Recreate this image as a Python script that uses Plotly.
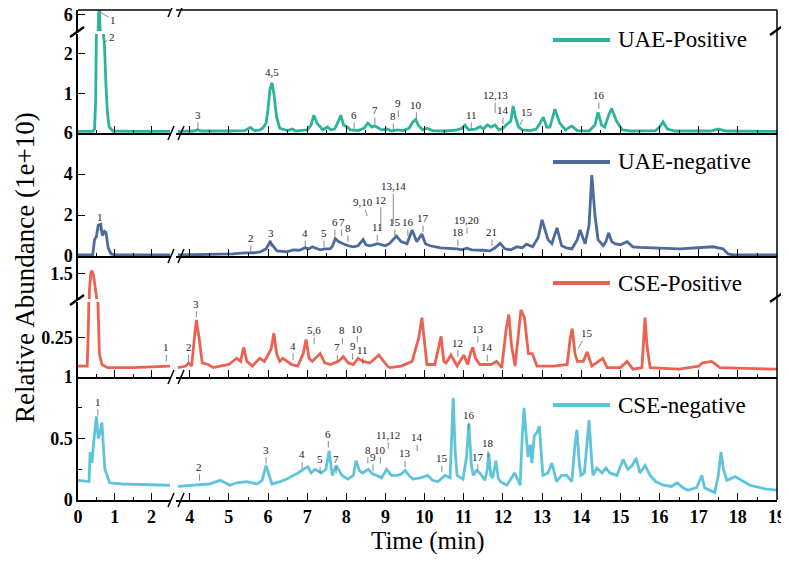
import plotly.graph_objects as go

# ---- chromatogram data (time in min, abundance in 1e+10) ----
UAE_POS_T = [0, 0.40, 0.45, 0.48, 0.50, 0.53, 0.56, 0.58, 0.61, 0.64, 0.68, 0.72, 0.76, 0.80, 0.85, 0.95, 1.5, 2.5,
             3.7, 4.1, 4.2, 4.3, 5.0, 5.4, 5.55, 5.65, 5.8, 5.88, 5.95, 6.0, 6.05, 6.1, 6.15, 6.22, 6.3, 6.5, 6.62,
             6.7, 7.0, 7.1, 7.17, 7.25, 7.4, 7.52, 7.6, 7.7, 7.8, 7.86, 7.93, 8.03, 8.1, 8.3, 8.45, 8.55, 8.65,
             8.72, 8.8, 8.9, 9.05, 9.15, 9.3, 9.45, 9.6, 9.7, 9.77, 9.85, 9.95, 10.06, 10.2, 10.5, 10.8, 10.95,
             11.03, 11.12, 11.3, 11.42, 11.5, 11.6, 11.7, 11.8, 11.9, 12.0, 12.1, 12.2, 12.26, 12.32, 12.4, 12.5,
             12.7, 12.85, 12.95, 13.03, 13.12, 13.2, 13.33, 13.45, 13.6, 13.76, 13.9, 14.2, 14.35, 14.43, 14.52,
             14.6, 14.7, 14.78, 14.9, 15.05, 15.3, 15.9, 16.0, 16.09, 16.2, 16.4, 17.3, 17.5, 17.7, 19]
UAE_POS_Y = [0.04, 0.04, 0.1, 0.8, 2.6, 4.5, 6.05, 6.2, 5.3, 4.0, 2.6, 2.2, 1.2, 0.5, 0.15, 0.05, 0.04, 0.04,
             0.04, 0.05, 0.08, 0.05, 0.05, 0.06, 0.14, 0.06, 0.08, 0.14, 0.25, 0.6, 1.1, 1.27, 1.0, 0.4, 0.12,
             0.06, 0.1, 0.05, 0.08, 0.2, 0.45, 0.25, 0.08, 0.15, 0.08, 0.1, 0.3, 0.45, 0.2, 0.15, 0.08, 0.06,
             0.12, 0.25, 0.15, 0.18, 0.14, 0.08, 0.1, 0.05, 0.08, 0.06, 0.12, 0.28, 0.34, 0.18, 0.08, 0.12, 0.06,
             0.05, 0.07, 0.12, 0.2, 0.08, 0.1, 0.16, 0.1, 0.2, 0.15, 0.2, 0.08, 0.12, 0.22, 0.3, 0.68, 0.4, 0.15,
             0.08, 0.06, 0.1, 0.25, 0.4, 0.15, 0.15, 0.6, 0.25, 0.08, 0.18, 0.06, 0.05, 0.2, 0.52, 0.2, 0.15,
             0.45, 0.62, 0.3, 0.08, 0.05, 0.06, 0.15, 0.28, 0.1, 0.05, 0.05, 0.1, 0.05, 0.04]

UAE_NEG_T = [0, 0.40, 0.45, 0.50, 0.55, 0.62, 0.66, 0.72, 0.76, 0.82, 0.9, 1.0, 2.5,
             3.7, 4.5, 5.1, 5.4, 5.62, 5.8, 5.95, 6.05, 6.15, 6.23, 6.48, 6.64, 6.8, 6.95, 7.05, 7.13, 7.33,
             7.45, 7.59, 7.65, 7.72, 7.8, 7.92, 8.05, 8.18, 8.3, 8.43, 8.5, 8.6, 8.8, 9.0, 9.1, 9.28, 9.4, 9.55,
             9.68, 9.8, 9.93, 10.02, 10.14, 10.4, 10.6, 10.83, 10.95, 11.08, 11.2, 11.29, 11.5, 11.67, 11.8,
             11.93, 12.05, 12.2, 12.36, 12.5, 12.6, 12.76, 12.9, 13.0, 13.08, 13.15, 13.25, 13.38, 13.5, 13.62,
             13.76, 13.9, 13.97, 14.1, 14.2, 14.27, 14.35, 14.43, 14.56, 14.63, 14.7, 14.78, 14.86, 15.0,
             15.17, 15.32, 15.5, 15.68, 16.0, 16.52, 16.8, 17.1, 17.37, 17.5, 17.62, 17.75, 17.9, 19]
UAE_NEG_Y = [0.05, 0.05, 0.8, 0.95, 1.5, 1.55, 1.0, 1.2, 1.15, 0.4, 0.1, 0.05, 0.05,
             0.05, 0.08, 0.1, 0.15, 0.15, 0.2, 0.35, 0.68, 0.45, 0.25, 0.2, 0.3, 0.28, 0.4, 0.35, 0.45, 0.3,
             0.35, 0.35, 0.5, 0.85, 0.7, 0.6, 0.5, 0.45, 0.5, 0.8, 0.55, 0.5, 0.6, 0.5, 0.6, 0.97, 0.7, 0.6,
             1.27, 0.7, 1.07, 0.6, 0.5, 0.4, 0.38, 0.35, 0.3, 0.38, 0.3, 0.3, 0.28, 0.25, 0.4,
             0.62, 0.35, 0.3, 0.45, 0.4, 0.58, 0.45, 0.9, 1.76, 1.2, 0.8, 0.6, 1.37, 0.5, 0.4,
             0.35, 0.8, 1.27, 0.6, 1.5, 3.95, 2.0, 0.8, 0.5, 0.7, 1.12, 0.7, 0.6, 0.55,
             0.7, 0.45, 0.42, 0.4, 0.38, 0.35, 0.38, 0.4, 0.45, 0.4, 0.35, 0.1, 0.05, 0.05]

CSE_POS_T = [0, 0.25, 0.28, 0.31, 0.35, 0.38, 0.42, 0.47, 0.51, 0.54, 0.58, 0.65, 0.8, 1.5, 2.4, 2.5,
             3.7, 3.9, 3.97, 4.05, 4.12, 4.17, 4.24, 4.32, 4.47, 4.6, 4.78, 5.0, 5.2, 5.3, 5.38, 5.46, 5.6,
             5.79, 5.91, 6.08, 6.15, 6.22, 6.3, 6.38, 6.6, 6.76, 6.9, 6.97, 7.05, 7.13, 7.33, 7.45, 7.59, 7.8,
             7.92, 8.05, 8.18, 8.3, 8.43, 8.6, 8.83, 9.05, 9.11, 9.4, 9.68, 9.85, 9.93, 10.0, 10.06, 10.26,
             10.35, 10.42, 10.49, 10.55, 10.67, 10.83, 11.0, 11.1, 11.18, 11.23, 11.3, 11.41, 11.7, 11.84,
             11.97, 12.08, 12.15, 12.22, 12.31, 12.4, 12.46, 12.55, 12.65, 12.75, 12.87, 13.3, 13.64, 13.72,
             13.77, 13.84, 13.9, 14.05, 14.15, 14.27, 14.55, 14.66, 15.0, 15.17, 15.32, 15.55, 15.6, 15.63,
             15.68, 15.76, 16.5, 17.0, 17.1, 17.33, 17.54, 19]
CSE_POS_Y = [0.07, 0.07, 0.3, 1.3, 1.5, 1.53, 1.48, 1.35, 1.2, 0.5, 0.15, 0.08, 0.06, 0.06, 0.07, 0.07,
             0.06, 0.07, 0.09, 0.07, 0.25, 0.365, 0.25, 0.09, 0.08, 0.06, 0.07, 0.08, 0.12, 0.1, 0.19, 0.1,
             0.07, 0.12, 0.1, 0.18, 0.28, 0.15, 0.1, 0.12, 0.08, 0.07, 0.15, 0.24, 0.12, 0.1, 0.15, 0.09,
             0.08, 0.1, 0.13, 0.09, 0.08, 0.12, 0.1, 0.09, 0.14, 0.07, 0.06, 0.07, 0.1, 0.25, 0.38, 0.2, 0.08,
             0.08, 0.18, 0.26, 0.1, 0.09, 0.14, 0.07, 0.14, 0.08, 0.16, 0.19, 0.12, 0.08, 0.08, 0.1,
             0.06, 0.3, 0.4, 0.2, 0.07, 0.3, 0.43, 0.38, 0.15, 0.15, 0.07, 0.07, 0.08, 0.25,
             0.31, 0.15, 0.1, 0.1, 0.16, 0.07, 0.12, 0.06, 0.06, 0.1, 0.05, 0.06, 0.3, 0.38,
             0.2, 0.06, 0.05, 0.07, 0.09, 0.1, 0.06, 0.05]

CSE_NEG_T = [0, 0.3, 0.33, 0.38, 0.42, 0.5, 0.55, 0.6, 0.65, 0.7, 0.73, 0.86, 1.2, 2.5,
             3.7, 4.22, 4.5, 4.78, 5.03, 5.2, 5.46, 5.72, 5.85, 5.95, 6.02, 6.1, 6.31, 6.48, 6.64, 6.77, 6.9,
             7.02, 7.1, 7.2, 7.36, 7.48, 7.56, 7.64, 7.74, 7.89, 8.04, 8.18, 8.25, 8.33, 8.41, 8.56, 8.68, 8.78,
             8.9, 9.03, 9.15, 9.3, 9.4, 9.5, 9.6, 9.7, 9.9, 10.08, 10.2, 10.34, 10.45, 10.52, 10.65, 10.69,
             10.73, 10.78, 10.83, 10.98, 11.07, 11.13, 11.19, 11.24, 11.32, 11.41, 11.54, 11.6, 11.64, 11.69,
             11.74, 11.82, 11.88, 11.93, 12.1, 12.3, 12.44, 12.49, 12.54, 12.6, 12.64, 12.7, 12.74, 12.8,
             12.87, 12.93, 12.98, 13.02, 13.15, 13.25, 13.37, 13.5, 13.63, 13.76, 13.84, 13.89, 13.95, 13.99,
             14.08, 14.15, 14.2, 14.26, 14.3, 14.4, 14.53, 14.63, 14.73, 14.91, 15.0, 15.07, 15.19, 15.3,
             15.4, 15.5, 15.63, 15.76, 15.9, 16.1, 16.3, 16.45, 16.6, 16.73, 16.95, 17.08, 17.15, 17.41, 17.5,
             17.57, 17.63, 17.72, 17.93, 18.31, 18.7, 19]
CSE_NEG_Y = [0.16, 0.15, 0.39, 0.3, 0.45, 0.68, 0.5, 0.55, 0.63, 0.4, 0.25, 0.14, 0.13, 0.12,
             0.11, 0.12, 0.13, 0.16, 0.12, 0.14, 0.15, 0.13, 0.16, 0.28, 0.2, 0.13, 0.15, 0.17, 0.2, 0.22, 0.25,
             0.27, 0.22, 0.25, 0.22, 0.25, 0.4, 0.2, 0.28, 0.2, 0.17, 0.2, 0.32, 0.24, 0.22, 0.25, 0.21, 0.2,
             0.18, 0.25, 0.2, 0.2, 0.21, 0.24, 0.2, 0.17, 0.18, 0.2, 0.16, 0.15, 0.18, 0.2, 0.18, 0.5,
             0.83, 0.4, 0.2, 0.17, 0.35, 0.62, 0.3, 0.2, 0.24, 0.22, 0.16, 0.25, 0.38, 0.2,
             0.18, 0.32, 0.18, 0.15, 0.12, 0.22, 0.12, 0.5, 0.75, 0.5, 0.35, 0.45, 0.3, 0.52,
             0.55, 0.6, 0.35, 0.2, 0.22, 0.3, 0.15, 0.2, 0.2, 0.15, 0.45, 0.57, 0.3, 0.2,
             0.22, 0.5, 0.65, 0.35, 0.2, 0.26, 0.22, 0.26, 0.22, 0.2, 0.28, 0.33, 0.25, 0.28,
             0.34, 0.22, 0.28, 0.2, 0.15, 0.12, 0.11, 0.14, 0.1, 0.08, 0.1, 0.2, 0.1, 0.06, 0.2,
             0.39, 0.25, 0.16, 0.19, 0.12, 0.09, 0.08]

# peak labels: text, time, abundance at the label text
UAE_POS_IDS = ["1", "2", "3", "4,5", "6", "7", "8", "9", "10", "11", "12,13", "14", "15", "16"]
UAE_POS_PT = [0.95, 0.92, 4.21, 6.1, 8.2, 8.73, 9.2, 9.33, 9.79, 11.19, 11.8, 12.0, 12.61, 14.45]
UAE_POS_PY = [5.8, 2.43, 0.46, 1.55, 0.46, 0.58, 0.43, 0.76, 0.71, 0.46, 0.96, 0.58, 0.53, 0.96]

UAE_NEG_IDS = ["1", "2", "3", "4", "5", "6", "7", "8", "9,10", "11", "12", "13,14", "15", "16", "17",
               "18", "19,20", "21"]
UAE_NEG_PT = [0.6, 5.56, 6.08, 6.95, 7.43, 7.71, 7.88, 8.04, 8.43, 8.79, 8.88, 9.2, 9.24, 9.57, 9.96,
              10.85, 11.08, 11.72]
UAE_NEG_PY = [1.9, 0.88, 1.12, 1.12, 1.12, 1.66, 1.66, 1.37, 2.63, 1.41, 2.75, 3.4, 1.66, 1.66, 1.85,
              1.17, 1.76, 1.17]

CSE_POS_IDS = ["1", "2", "3", "4", "5,6", "7", "8", "9", "10", "11", "12", "13", "14", "15"]
CSE_POS_PT = [2.4, 3.97, 4.17, 6.64, 7.18, 7.77, 7.9, 8.16, 8.28, 8.42, 10.85, 11.36, 11.6, 14.15]
CSE_POS_PY = [0.19, 0.19, 0.47, 0.2, 0.3, 0.19, 0.3, 0.2, 0.31, 0.17, 0.22, 0.31, 0.19, 0.28]

CSE_NEG_IDS = ["1", "2", "3", "4", "5", "6", "7", "8", "9", "10", "11,12", "13", "14", "15", "16", "17",
               "18"]
CSE_NEG_PT = [0.54, 4.25, 5.95, 6.87, 7.33, 7.54, 7.74, 8.55, 8.68, 8.87, 9.07, 9.5, 9.81, 10.44, 11.13,
              11.36, 11.62]
CSE_NEG_PY = [0.8, 0.27, 0.41, 0.37, 0.33, 0.54, 0.33, 0.41, 0.35, 0.41, 0.53, 0.38, 0.51, 0.34, 0.69,
              0.35, 0.46]

# ---- geometry (page pixels; the page body adds an 8 px margin) ----
W, H = 789, 566
OFF = 8
PL, PR, PT, PB = 78, 777, 10, 500          # plot area in page pixels
PW, PH = PR - PL, PB - PT
FW, FH = W - OFF, H - 2 * OFF
SERIF = "Liberation Serif"


def px_x(px):
    return (px - PL) / PW


def px_y(py):
    return (PB - py) / PH


XL_DOM, XR_DOM = [0, px_x(170)], [px_x(176), 1]
XL_RANGE, XR_RANGE = [0, 2.5], [3.65, 19]

PANELS = [
    dict(name="UAE-Positive", color="#2BB39B", t=UAE_POS_T, y=UAE_POS_Y,
         ids=UAE_POS_IDS, pt=UAE_POS_PT, py=UAE_POS_PY, leg_y=px_y(40),
         lower=dict(dom=[px_y(133), px_y(34)], rng=[0, 2.5], vals=[1, 2]),
         upper=dict(dom=[px_y(31), px_y(10)], rng=[5.35, 6.2], vals=[6])),
    dict(name="UAE-negative", color="#4C6A9D", t=UAE_NEG_T, y=UAE_NEG_Y,
         ids=UAE_NEG_IDS, pt=UAE_NEG_PT, py=UAE_NEG_PY, leg_y=px_y(162),
         lower=dict(dom=[px_y(256), px_y(133)], rng=[0, 6], vals=[0, 2, 4, 6]),
         upper=None),
    dict(name="CSE-Positive", color="#EC6150", t=CSE_POS_T, y=CSE_POS_Y,
         ids=CSE_POS_IDS, pt=CSE_POS_PT, py=CSE_POS_PY, leg_y=px_y(283),
         lower=dict(dom=[px_y(377), px_y(302)], rng=[0, 0.48], vals=[0.25]),
         upper=dict(dom=[px_y(299), px_y(256)], rng=[1.2, 1.7], vals=[1.5])),
    dict(name="CSE-negative", color="#5EC4DC", t=CSE_NEG_T, y=CSE_NEG_Y,
         ids=CSE_NEG_IDS, pt=CSE_NEG_PT, py=CSE_NEG_PY, leg_y=px_y(405),
         lower=dict(dom=[px_y(500), px_y(377)], rng=[0, 1], vals=[0, 0.5, 1], minor=0.25),
         upper=None),
]

# labels placed against the upper (broken) y segment
UPPER_LABELS = {("UAE-Positive", "1")}
# leader offsets (px) for labels whose text is not straight above the peak
LEADERS = {
    ("UAE-Positive", "1"): (13, 8), ("UAE-Positive", "2"): (8, -6),
    ("UAE-Positive", "4,5"): None, ("UAE-Positive", "12,13"): (0, -18),
    ("UAE-Positive", "15"): (7, -13),
    ("UAE-negative", "12"): (0, -30), ("UAE-negative", "13,14"): (0, -38),
    ("UAE-negative", "9,10"): (-4, -14),
    ("CSE-Positive", "15"): (9, -15),
}

tick_font = dict(family=SERIF, size=18, color="black", weight="bold")
fig = go.Figure()
layout = {}
annotations, shapes = [], []


def ax_key(kind, n):
    return (f"{kind}axis" if n == 1 else f"{kind}axis{n}"), (kind if n == 1 else f"{kind}{n}")


yn = 0
for i, p in enumerate(PANELS):
    last = i == len(PANELS) - 1
    xl_key, xl = ax_key("x", 2 * i + 1)
    xr_key, xr = ax_key("x", 2 * i + 2)
    yn += 1
    yl_key, yl = ax_key("y", yn)
    yu = None
    if p["upper"]:
        yn += 1
        yu_key, yu = ax_key("y", yn)

    for key, dom, rng, vals in ((xl_key, XL_DOM, XL_RANGE, [0, 1, 2]),
                                (xr_key, XR_DOM, XR_RANGE, list(range(4, 20)))):
        layout[key] = dict(domain=dom, range=rng, anchor=yl, showgrid=False, zeroline=False,
                           showline=True, linecolor="black", linewidth=1.5,
                           ticks="inside", ticklen=7, tickwidth=1.4, tickcolor="black",
                           tickvals=vals, showticklabels=last, tickfont=tick_font,
                           ticklabeloverflow="allow", automargin=False,
                           minor=dict(ticks="inside", ticklen=3, tickwidth=1, tickcolor="black",
                                      dtick=0.5, tick0=0, showgrid=False))

    segs = [(yl_key, yl, p["lower"])]
    if yu:
        segs.append((yu_key, yu, p["upper"]))
    for key, ref, seg in segs:
        ax = dict(domain=seg["dom"], range=seg["rng"], anchor=xl, showgrid=False, zeroline=False,
                  showline=True, linecolor="black", linewidth=1.5,
                  ticks="inside", ticklen=7, tickwidth=1.4, tickcolor="black",
                  tickvals=seg["vals"], ticktext=[f"{v:g}" for v in seg["vals"]],
                  tickfont=tick_font, ticklabeloverflow="allow", automargin=False)
        if seg.get("minor"):
            ax["minor"] = dict(ticks="inside", ticklen=4, tickwidth=1, tickcolor="black",
                               dtick=seg["minor"], tick0=0, showgrid=False)
        layout[key] = ax

    left = [(t, v) for t, v in zip(p["t"], p["y"]) if t <= XL_RANGE[1]]
    right = [(t, v) for t, v in zip(p["t"], p["y"]) if t >= XR_RANGE[0]]
    combos = [(left, xl, yl), (right, xr, yl)]
    if yu:
        combos.append((left, xl, yu))
    for pts, xa, ya in combos:
        fig.add_trace(go.Scatter(
            x=[a for a, _ in pts], y=[b for _, b in pts], xaxis=xa, yaxis=ya,
            mode="lines", line=dict(color=p["color"], width=2.8),
            showlegend=False, hoverinfo="skip"))

    for s, t, v in zip(p["ids"], p["pt"], p["py"]):
        lead = LEADERS.get((p["name"], s), (0, -14))
        yref = yu if (p["name"], s) in UPPER_LABELS else yl
        a = dict(text=s, x=t, y=v, xref=xl if t <= XL_RANGE[1] else xr, yref=yref,
                 xanchor="center", yanchor="middle",
                 font=dict(family=SERIF, size=11, color="#222"))
        if lead is None:
            a["showarrow"] = False
        else:
            a.update(showarrow=True, arrowhead=0, arrowwidth=0.7, arrowcolor="#555",
                     ax=lead[0], ay=lead[1], xshift=-lead[0], yshift=lead[1], standoff=0)
        annotations.append(a)

    # legend drawn by hand: line sample + name
    shapes.append(dict(type="line", xref="paper", yref="paper", x0=px_x(553), x1=px_x(610),
                       y0=p["leg_y"], y1=p["leg_y"], line=dict(color=p["color"], width=4)))
    annotations.append(dict(text=p["name"], xref="paper", yref="paper", x=px_x(616), y=p["leg_y"],
                            xanchor="left", yanchor="middle", showarrow=False,
                            font=dict(family=SERIF, size=23, color="black")))

# frame: top edge and right edge
for x0, x1 in (XL_DOM, XR_DOM):
    shapes.append(dict(type="line", xref="paper", yref="paper", x0=x0, x1=x1, y0=1, y1=1,
                       line=dict(color="black", width=1.5)))
shapes.append(dict(type="line", xref="paper", yref="paper", x0=1, x1=1, y0=0, y1=1,
                   line=dict(color="black", width=1.5)))

# x-axis break marks "//" at every panel edge
dx, dy = 3 / PW, 7 / PH
for yb in (0, px_y(377), px_y(256), px_y(133), 1):
    for cx in (px_x(171), px_x(181)):
        shapes.append(dict(type="line", xref="paper", yref="paper", x0=cx - dx, x1=cx + dx,
                           y0=yb - dy, y1=yb + dy, line=dict(color="black", width=1.5)))

# y-axis break marks
bx, by = 7 / PW, 5 / PH
for cx, cy in ((px_x(77), px_y(32)), (px_x(777), px_y(30)),
               (px_x(77), px_y(300)), (px_x(777), px_y(297))):
    shapes.append(dict(type="line", xref="paper", yref="paper", x0=cx - bx, x1=cx + bx,
                       y0=cy - by, y1=cy + by, line=dict(color="black", width=2.4)))

annotations.append(dict(text="Relative Abundance (1e+10)", xref="paper", yref="paper",
                        x=px_x(25), y=px_y(268), textangle=-90, showarrow=False,
                        xanchor="center", yanchor="middle",
                        font=dict(family=SERIF, size=27, color="black")))
annotations.append(dict(text="Time (min)", xref="paper", yref="paper",
                        x=px_x(428), y=px_y(541), showarrow=False,
                        xanchor="center", yanchor="middle",
                        font=dict(family=SERIF, size=25, color="black")))

fig.update_layout(
    width=FW, height=FH,
    margin=dict(l=PL - OFF, r=FW - (PR - OFF), t=PT - OFF, b=FH - (PB - OFF), autoexpand=False),
    paper_bgcolor="white", plot_bgcolor="white",
    showlegend=False,
    annotations=annotations, shapes=shapes,
    **layout,
)

fig.write_html("out.html")
